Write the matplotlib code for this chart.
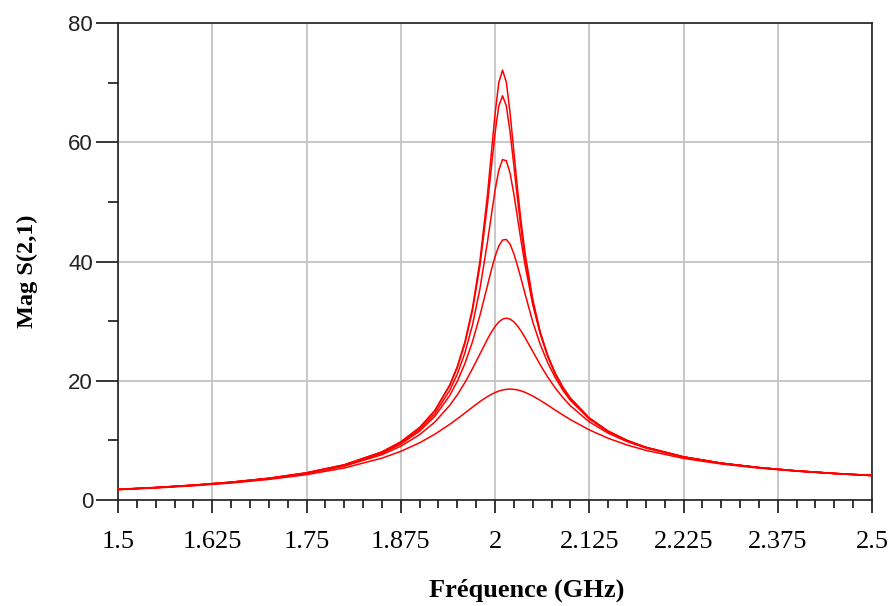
import matplotlib
matplotlib.use('Agg')
import matplotlib.pyplot as plt
import numpy as np

# frequency points (GHz)
freq = [1.5, 1.55, 1.6, 1.65, 1.7, 1.75, 1.8, 1.85, 1.875, 1.9, 1.92, 1.94, 1.95,
        1.96, 1.97, 1.98, 1.99, 1.995, 2.0, 2.005, 2.01, 2.015, 2.02, 2.025, 2.03,
        2.035, 2.04, 2.05, 2.06, 2.07, 2.08, 2.09, 2.1, 2.125, 2.15, 2.175, 2.2,
        2.25, 2.3, 2.35, 2.4, 2.45, 2.5]

# Mag S(2,1), one list per trace
s21_a = [1.79, 2.10, 2.50, 3.00, 3.65, 4.57, 5.91, 8.07, 9.74, 12.15, 14.98, 19.3, 22.4,
         26.5, 32.1, 40.1, 51.2, 58.0, 64.7, 70.0, 72.1, 70.1, 64.9, 58.4, 52.0,
         46.2, 41.3, 33.7, 28.2, 24.2, 21.2, 18.9, 17.0, 13.7, 11.5, 9.97, 8.82,
         7.23, 6.18, 5.44, 4.89, 4.46, 4.12]
s21_b = [1.79, 2.10, 2.50, 3.00, 3.65, 4.56, 5.90, 8.05, 9.74, 12.13, 14.94, 19.19, 22.2,
         26.2, 31.7, 39.3, 49.6, 55.6, 61.5, 66.1, 67.8, 66.1, 61.7, 56.1, 50.3,
         45.0, 40.4, 33.2, 27.9, 24.1, 21.1, 18.8, 16.97, 13.68, 11.5, 9.96, 8.81,
         7.23, 6.18, 5.44, 4.89, 4.46, 4.12]
s21_c = [1.78, 2.09, 2.48, 2.97, 3.62, 4.52, 5.83, 7.94, 9.55, 11.83, 14.47, 18.39, 21.13,
         24.66, 29.29, 35.43, 43.29, 47.64, 51.9, 55.3, 57.1, 56.9, 54.8, 51.3, 47.2,
         43.1, 39.3, 32.8, 27.9, 24.1, 21.2, 18.9, 17.1, 13.78, 11.58, 10.02, 8.85,
         7.25, 6.19, 5.45, 4.90, 4.47, 4.13]
s21_d = [1.77, 2.08, 2.47, 2.96, 3.60, 4.49, 5.78, 7.83, 9.38, 11.55, 14.01, 17.54, 19.92,
         22.86, 26.51, 30.95, 35.98, 38.5, 40.8, 42.6, 43.6, 43.7, 42.9, 41.3, 39.2,
         36.9, 34.5, 29.9, 26.1, 23.0, 20.5, 18.4, 16.7, 13.58, 11.48, 9.96, 8.83,
         7.22, 6.17, 5.43, 4.88, 4.45, 4.11]
s21_e = [1.76, 2.07, 2.45, 2.93, 3.56, 4.42, 5.67, 7.60, 9.03, 10.96, 13.06, 15.88, 17.65,
         19.69, 22.0, 24.49, 26.99, 28.12, 29.1, 29.86, 30.34, 30.5, 30.34, 29.88, 29.16,
         28.25, 27.2, 24.93, 22.68, 20.6, 18.77, 17.18, 15.8, 13.11, 11.21, 9.80, 8.72,
         7.19, 6.16, 5.42, 4.87, 4.44, 4.10]
s21_f = [1.73, 2.02, 2.39, 2.85, 3.45, 4.25, 5.37, 7.02, 8.16, 9.60, 11.02, 12.70, 13.62,
         14.59, 15.56, 16.51, 17.35, 17.71, 18.02, 18.27, 18.45, 18.56, 18.6, 18.56, 18.46,
         18.28, 18.05, 17.45, 16.71, 15.9, 15.07, 14.26, 13.48, 11.76, 10.36, 9.23, 8.33,
         6.98, 6.04, 5.35, 4.83, 4.42, 4.09]

xticks = [1.5, 1.625, 1.75, 1.875, 2.0, 2.125, 2.25, 2.375, 2.5]
xtick_labels = ["1.5", "1.625", "1.75", "1.875", "2", "2.125", "2.225", "2.375", "2.5"]
yticks = [0, 20, 40, 60, 80]

fig = plt.figure(figsize=(8.88, 6.06), dpi=100)
ax = fig.add_axes([0.1329, 0.1749, 0.8491, 0.7871])

for s in [s21_a, s21_b, s21_c, s21_d, s21_e, s21_f]:
    ax.plot(freq, s, color='#ff0000', lw=1.1, zorder=3)

ax.set_xlim(1.5, 2.5)
ax.set_ylim(0, 80)
ax.set_xticks(xticks)
ax.set_xticklabels(xtick_labels, fontfamily='Liberation Serif', fontsize=19)
ax.set_xticks(np.arange(1.5, 2.5001, 0.025), minor=True)
ax.set_yticks(yticks)
ax.set_yticklabels([str(v) for v in yticks], fontfamily='Liberation Sans', fontsize=16,
                   color='#222222')
ax.set_yticks([10, 30, 50, 70], minor=True)

ax.tick_params(axis='x', which='major', direction='out', length=9.5, width=1.1, pad=13)
ax.tick_params(axis='x', which='minor', direction='out', length=6, width=1.1)
ax.tick_params(axis='y', which='major', direction='out', length=16, width=1.1, pad=2)
ax.tick_params(axis='y', which='minor', direction='out', length=7.5, width=1.1)

ax.grid(True, which='major', color='#c4c4c4', lw=1.3, zorder=0)
for sp in ax.spines.values():
    sp.set_color('#202020')
    sp.set_linewidth(1.2)

fig.text(527 / 888, 1 - 590 / 606, 'Fréquence (GHz)', fontfamily='Liberation Serif',
         fontweight='bold', fontsize=19, ha='center', va='center')
fig.text(27 / 888, 1 - 271 / 606, 'Mag S(2,1)', fontfamily='Liberation Serif',
         fontweight='bold', fontsize=17.5, ha='center', va='center', rotation=90)

fig.savefig('out.png', dpi=100)
